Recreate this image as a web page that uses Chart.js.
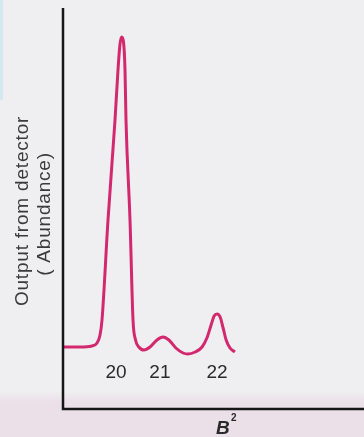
<!DOCTYPE html>
<html>
<head>
<meta charset="utf-8">
<script src="https://cdn.jsdelivr.net/npm/chart.js@4.4.0/dist/chart.umd.min.js"></script>
<style>
  html, body { margin: 0; padding: 0; background: #efeff1; }
  canvas { display: block; }
</style>
</head>
<body>
<canvas id="spectrum" width="364" height="437"></canvas>
<script>
// Magnetic scan position (arbitrary units along B²)
const scanPos = [
  0, 5.6, 9.6, 11.3, 12.3, 12.96, 14.95, 17.28, 18.27, 18.94, 19.5,
  20.1, 20.6, 20.93, 22.26, 23.26, 24.1, 25.2, 26.9, 28.9, 31.2,
  33.2, 35.2, 37.5, 39.9, 41.5, 43.9, 46.2, 47.8, 49.2, 50.2, 51.2, 52.2,
  53.2, 54.2, 55.5, 57.1
];
// Output from the detector (relative abundance, %)
const detectorOutput = [
  15.25, 15.25, 15.5, 16.25, 18.25, 22, 47, 72, 84.5, 91, 92.75,
  91.5, 84.5, 72, 47, 22, 17, 15.25, 14.5, 15.25, 17,
  17.75, 17, 15, 13.75, 13.5, 14, 15.25, 17.5, 20.75, 23, 23.5, 22.75,
  20, 17, 15, 14
];
// Mass numbers written under the peaks, and where they sit on the scan
const massNumbers = ['20', '21', '22'];
const massLabelPos = [17.6, 32.2, 51.2];
// Axis titles
const yAxisTitle = ['Output from detector', '( Abundance)'];
const xAxisTitle = 'B';
const xAxisTitleSup = '2';

const INK = '#2a2a2a';
const TRACE = '#d3286e';

const points = scanPos.map((x, i) => ({ x, y: detectorOutput[i] }));

const decorations = {
  id: 'decorations',
  beforeDraw(chart) {
    const { ctx, width, height } = chart;
    ctx.save();
    ctx.fillStyle = '#efeff1';
    ctx.fillRect(0, 0, width, height);
    // pink printed band along the foot of the page
    const g = ctx.createLinearGradient(0, 391, 0, 402);
    g.addColorStop(0, 'rgba(235,224,232,0)');
    g.addColorStop(1, 'rgba(235,224,232,1)');
    ctx.fillStyle = g;
    ctx.fillRect(0, 391, width, 11);
    ctx.fillStyle = '#ebe0e8';
    ctx.fillRect(0, 402, width, height - 402);
    // pale blue margin strip at the top-left
    ctx.fillStyle = '#d6e8ef';
    ctx.fillRect(0, 0, 3, 100);
    ctx.restore();
  },
  afterDraw(chart) {
    const { ctx, chartArea, scales } = chart;
    const { left, top, bottom } = chartArea;
    ctx.save();
    // axes
    ctx.strokeStyle = '#161616';
    ctx.lineWidth = 2.5;
    ctx.beginPath();
    ctx.moveTo(left, top);
    ctx.lineTo(left, bottom + 1);
    ctx.lineTo(chart.width, bottom + 1);
    ctx.stroke();

    ctx.fillStyle = INK;
    // mass numbers under the peaks
    ctx.font = '19px "Liberation Sans", Arial, sans-serif';
    ctx.textAlign = 'center';
    ctx.textBaseline = 'middle';
    massNumbers.forEach((m, i) => {
      ctx.fillText(m, scales.x.getPixelForValue(massLabelPos[i]), 373);
    });

    // y-axis title, two rotated lines
    ctx.fillStyle = '#3a3a3a';
    ctx.textBaseline = 'alphabetic';
    ctx.font = '19px "Liberation Sans", Arial, sans-serif';
    if ('letterSpacing' in ctx) ctx.letterSpacing = '0.8px';
    [[28, 211], [50, 214]].forEach(([x, y], i) => {
      ctx.save();
      ctx.translate(x, y);
      ctx.rotate(-Math.PI / 2);
      ctx.fillText(yAxisTitle[i], 0, 0);
      ctx.restore();
    });
    if ('letterSpacing' in ctx) ctx.letterSpacing = '0px';

    // x-axis title B²
    ctx.fillStyle = INK;
    ctx.textAlign = 'left';
    ctx.font = 'italic bold 19px "Liberation Sans", Arial, sans-serif';
    ctx.fillText(xAxisTitle, 216, 434);
    ctx.font = 'bold 10px "Liberation Sans", Arial, sans-serif';
    ctx.fillText(xAxisTitleSup, 231, 421);
    ctx.restore();
  }
};

new Chart(document.getElementById('spectrum'), {
  type: 'line',
  data: {
    datasets: [{
      data: points,
      borderColor: TRACE,
      borderWidth: 3,
      pointRadius: 0,
      fill: false,
      cubicInterpolationMode: 'monotone'
    }]
  },
  options: {
    responsive: false,
    devicePixelRatio: 1,
    animation: false,
    layout: { padding: { left: 63, top: 8, right: 0, bottom: 29 } },
    plugins: { legend: { display: false }, tooltip: { enabled: false } },
    scales: {
      x: { type: 'linear', min: 0, max: 100, display: false },
      y: { type: 'linear', min: 0, max: 100, display: false }
    }
  },
  plugins: [decorations]
});
</script>
</body>
</html>
